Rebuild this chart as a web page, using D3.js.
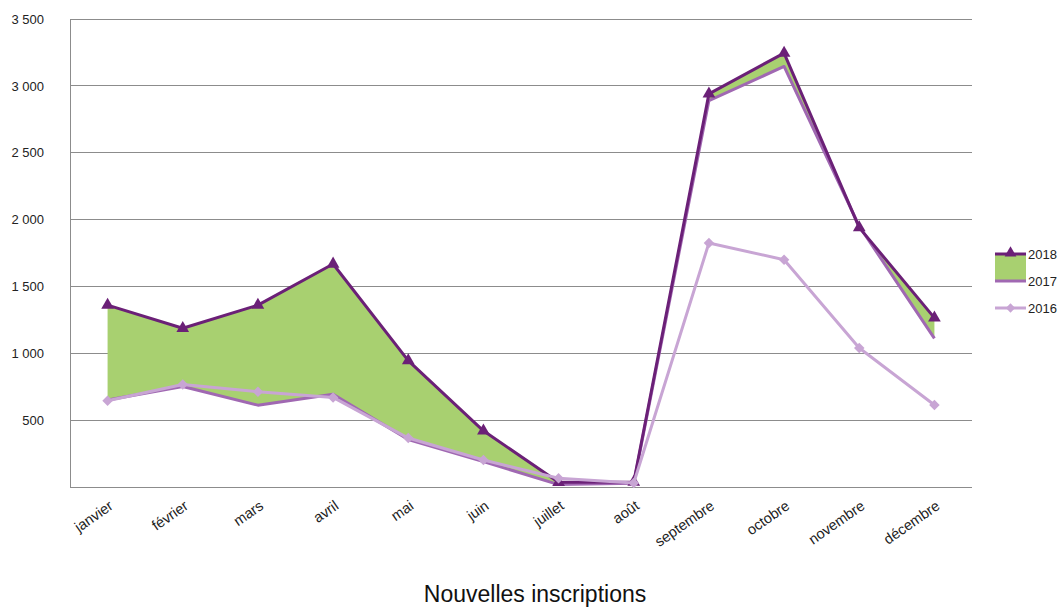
<!DOCTYPE html>
<html>
<head>
<meta charset="utf-8">
<script src="https://cdn.jsdelivr.net/npm/d3@7"></script>
<style>
  html, body { margin: 0; padding: 0; background: #fff; }
  svg text { font-family: "Liberation Sans", Arial, sans-serif; }
</style>
</head>
<body>
<svg id="chart" width="1061" height="608"></svg>
<script>
// Monthly new registrations, three school years
const months = ["janvier", "février", "mars", "avril", "mai", "juin",
                "juillet", "août", "septembre", "octobre", "novembre", "décembre"];
const values2018 = [1360, 1187, 1360, 1668, 945, 420, 35, 37, 2940, 3245, 1940, 1265];
const values2017 = [650, 752, 612, 693, 355, 190, 18, 28, 2890, 3145, 1950, 1112];
const values2016 = [645, 767, 712, 670, 366, 202, 65, 30, 1825, 1700, 1040, 613];
const yTicks = [500, 1000, 1500, 2000, 2500, 3000, 3500];
const seriesNames = ["2018", "2017", "2016"];
const titleText = "Nouvelles inscriptions";

const colors = { s2018: "#6b2077", s2017: "#a068b2", s2016: "#c8a5d4", band: "#a8d070", grid: "#8c8c8c" };

const svg = d3.select("#chart");
const plot = { left: 70, right: 972, top: 19, bottom: 487 };

const x = d3.scalePoint().domain(months).range([plot.left, plot.right]).padding(0.5);
const y = d3.scaleLinear().domain([0, 3500]).range([plot.bottom, plot.top]);

// horizontal gridlines
svg.append("g").selectAll("line").data(yTicks).join("line")
  .attr("x1", plot.left).attr("x2", plot.right)
  .attr("y1", d => y(d)).attr("y2", d => y(d))
  .attr("stroke", colors.grid).attr("stroke-width", 1).attr("shape-rendering", "crispEdges");

// y axis labels, space as thousands separator
const yAxis = d3.axisLeft(y).tickValues(yTicks).tickSize(0).tickPadding(0)
  .tickFormat(d => d3.format(",")(d).replace(",", " "));
const gy = svg.append("g").attr("transform", `translate(${plot.left - 26},0)`).call(yAxis);
gy.select(".domain").remove();
gy.selectAll("text").attr("font-size", 13).attr("fill", "#222")
  .attr("font-family", "Liberation Sans, Arial, sans-serif");

// axis lines
svg.append("line").attr("x1", plot.left).attr("x2", plot.left)
  .attr("y1", plot.top).attr("y2", plot.bottom)
  .attr("stroke", colors.grid).attr("shape-rendering", "crispEdges");
svg.append("line").attr("x1", plot.left).attr("x2", plot.right)
  .attr("y1", plot.bottom).attr("y2", plot.bottom)
  .attr("stroke", colors.grid).attr("shape-rendering", "crispEdges");

// x axis labels, tilted
const xAxis = d3.axisBottom(x).tickSize(0).tickPadding(0);
const gx = svg.append("g").attr("transform", `translate(0,${plot.bottom})`).call(xAxis);
gx.select(".domain").remove();
gx.selectAll("text")
  .attr("font-size", 14.5).attr("fill", "#222")
  .attr("font-family", "Liberation Sans, Arial, sans-serif")
  .attr("text-anchor", "end")
  .attr("dy", 0).attr("y", 0)
  .attr("transform", "translate(6,21) rotate(-35)");

// band between 2017 and 2018
const rows = months.map((m, i) => ({ m, a: values2017[i], b: values2018[i], c: values2016[i] }));
svg.append("path").datum(rows)
  .attr("fill", colors.band)
  .attr("d", d3.area().x(d => x(d.m)).y0(d => y(d.a)).y1(d => y(d.b)));

const line = key => d3.line().x(d => x(d.m)).y(d => y(d[key]));

svg.append("path").datum(rows).attr("fill", "none")
  .attr("stroke", colors.s2017).attr("stroke-width", 3).attr("stroke-linejoin", "round")
  .attr("d", line("a"));

svg.append("path").datum(rows).attr("fill", "none")
  .attr("stroke", colors.s2018).attr("stroke-width", 3).attr("stroke-linejoin", "round")
  .attr("d", line("b"));

svg.append("g").selectAll("path").data(rows).join("path")
  .attr("transform", d => `translate(${x(d.m)},${y(d.b)})`)
  .attr("d", d3.symbol(d3.symbolTriangle, 70)())
  .attr("fill", colors.s2018);

svg.append("path").datum(rows).attr("fill", "none")
  .attr("stroke", colors.s2016).attr("stroke-width", 3).attr("stroke-linejoin", "round")
  .attr("d", line("c"));

svg.append("g").selectAll("path").data(rows).join("path")
  .attr("transform", d => `translate(${x(d.m)},${y(d.c)})`)
  .attr("d", d3.symbol(d3.symbolDiamond2, 70)())
  .attr("fill", colors.s2016);

// legend
const lg = svg.append("g").attr("transform", "translate(995,0)");
lg.append("rect").attr("x", 0).attr("y", 254).attr("width", 31).attr("height", 27).attr("fill", colors.band);
lg.append("line").attr("x1", 0).attr("x2", 31).attr("y1", 254).attr("y2", 254)
  .attr("stroke", colors.s2018).attr("stroke-width", 3);
lg.append("path").attr("transform", "translate(15.5,253)")
  .attr("d", d3.symbol(d3.symbolTriangle, 60)()).attr("fill", colors.s2018);
lg.append("line").attr("x1", 0).attr("x2", 31).attr("y1", 281).attr("y2", 281)
  .attr("stroke", colors.s2017).attr("stroke-width", 3);
lg.append("line").attr("x1", 0).attr("x2", 31).attr("y1", 308).attr("y2", 308)
  .attr("stroke", colors.s2016).attr("stroke-width", 3);
lg.append("path").attr("transform", "translate(15.5,308)")
  .attr("d", d3.symbol(d3.symbolDiamond2, 55)()).attr("fill", colors.s2016);
lg.selectAll("text.lab").data(seriesNames).join("text").attr("class", "lab")
  .attr("x", 33).attr("y", (d, i) => 254 + i * 27).attr("dy", "0.35em")
  .attr("font-size", 13).attr("fill", "#222").text(d => d);

// title
svg.append("text").attr("x", 535).attr("y", 602).attr("text-anchor", "middle")
  .attr("font-family", "Lato, 'Noto Sans', sans-serif").attr("font-size", 23)
  .attr("fill", "#111").text(titleText);
</script>
</body>
</html>
